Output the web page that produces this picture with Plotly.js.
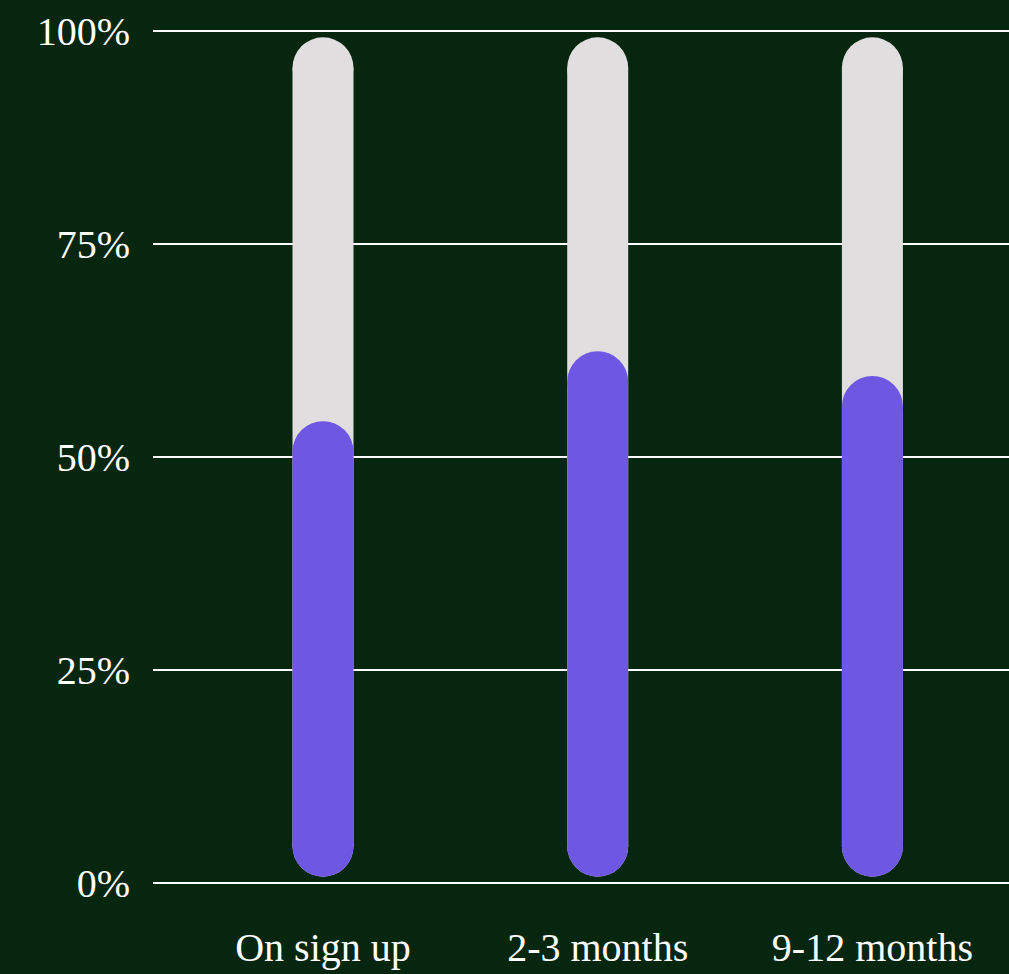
<!DOCTYPE html>
<html>
<head>
<meta charset="utf-8">
<script src="https://cdn.plot.ly/plotly-3.0.1.min.js"></script>
<style>
html,body{margin:0;padding:0;background:#06260F;}
#chart{width:1009px;height:974px;}
</style>
</head>
<body>
<div id="chart"></div>
<script>
// Data
var categories = ["On sign up", "2-3 months", "9-12 months"];
var shareValues = [54.2, 62.4, 59.5];   // purple (top of pill, %)
var trackValues = [99.2, 99.2, 99.2];   // grey track top (%)
var trackBase = 0.8;                    // inset of pills from 0 (%)
var yTickVals = [0, 25, 50, 75, 100];
var yTickText = ["0%", "25%", "50%", "75%", "100%"];

// Layout geometry
var W = 1009, H = 974;
var plotLeft = 153, plotTop0 = 30.3, plotBottom0 = 883.3;
var yMin = -1, yMax = 101;
var pxPerUnit = (plotBottom0 - plotTop0) / 100;
var mTop = plotTop0 - (yMax - 100) * pxPerUnit;
var mBottom = H - (plotBottom0 + (0 - yMin) * pxPerUnit);
var barPx = 61;
var capR = (barPx / 2) / pxPerUnit; // radius in data units

var xCenter0 = 323, xStep = 274.7;
var xStart = -(xCenter0 - plotLeft) / xStep;
var xEnd = xStart + (W - plotLeft) / xStep;

var traces = [];
function pill(xi, lo, hi, color) {
  return {
    type: "scatter", mode: "lines+markers",
    x: [categories[xi], categories[xi]],
    y: [lo + capR, hi - capR],
    line: {color: color, width: barPx},
    marker: {color: color, size: barPx, symbol: "circle", line: {width: 0}},
    hoverinfo: "skip", showlegend: false, cliponaxis: false
  };
}
for (var i = 0; i < categories.length; i++) {
  traces.push(pill(i, trackBase, trackValues[i], "#E0DEDF"));
}
for (var j = 0; j < categories.length; j++) {
  traces.push(pill(j, trackBase, shareValues[j], "#6E58E3"));
}

var fontFam = "Liberation Serif, Times New Roman, serif";
var layout = {
  width: W, height: H,
  paper_bgcolor: "#06260F", plot_bgcolor: "#06260F",
  margin: {l: plotLeft, r: 0, t: mTop, b: mBottom, pad: 0},
  showlegend: false,
  xaxis: {
    type: "category", categoryarray: categories, categoryorder: "array",
    range: [xStart, xEnd], showgrid: false, zeroline: false, showline: false,
    ticks: "", ticklabelstandoff: 28,
    tickfont: {family: fontFam, size: 40, color: "#FFFFFF"},
    fixedrange: true
  },
  yaxis: {
    range: [yMin, yMax], tickvals: yTickVals, ticktext: yTickText,
    showgrid: true, gridcolor: "#FFFFFF", gridwidth: 2,
    zeroline: false, showline: false, ticks: "", ticklabelstandoff: 22,
    tickfont: {family: fontFam, size: 40, color: "#FFFFFF"},
    fixedrange: true
  }
};
Plotly.newPlot("chart", traces, layout, {displayModeBar: false, staticPlot: true});
</script>
</body>
</html>
